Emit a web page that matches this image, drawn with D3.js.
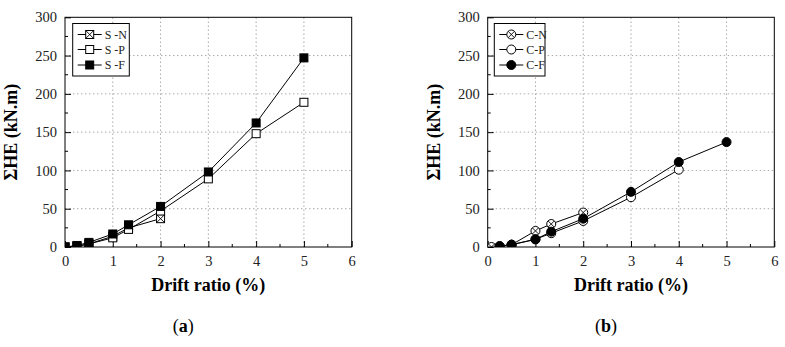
<!DOCTYPE html>
<html><head><meta charset="utf-8">
<script src="https://cdn.jsdelivr.net/npm/d3@7"></script>
<style>body{margin:0;background:#fff}svg{display:block}svg text{font-family:"Liberation Serif","Times New Roman",serif}</style>
</head><body>
<svg id="c" width="785" height="347"></svg>
<script>
const xTicks = [0,1,2,3,4,5,6];
const yTicks = [0,50,100,150,200,250,300];
const yLabel = "ΣHE (kN.m)";
const xLabel = "Drift ratio (%)";

const sLabels = ["S -N","S -P","S -F"];
const sNx = [0,0.25,0.5,1,1.33,2];
const sNy = [0,1,4,14,25,37];
const sPx = [0,0.25,0.5,1,1.33,2,3,4,5];
const sPy = [0,1,4,12,23,47,89,148,189];
const sFx = [0,0.25,0.5,1,1.33,2,3,4,5];
const sFy = [0,2,6,17,29,53,98,162,247];

const cLabels = ["C-N","C-P","C-F"];
const cNx = [0.08,0.25,0.5,1,1.33,2];
const cNy = [0,1,3,21,30,45];
const cPx = [0.25,0.5,1,1.33,2,3,4];
const cPy = [1,3,10,18,34,65,101];
const cFx = [0.25,0.5,1,1.33,2,3,4,5];
const cFy = [1,3,10,20,37,72,111,137];

const svg = d3.select("#c");
const serif = '"Liberation Serif","Times New Roman",serif';

function panel(x0, x1, tag, series, labels, legX0, legX1) {
  const x = d3.scaleLinear().domain([0,6]).range([x0,x1]);
  const y = d3.scaleLinear().domain([0,300]).range([247,17.3]);
  const g = svg.append("g");
  const cid = "clip" + tag;
  svg.append("defs").append("clipPath").attr("id",cid).append("rect")
    .attr("x",x(0)).attr("y",y(300)).attr("width",x(6)-x(0)).attr("height",y(0)-y(300));
  g.selectAll(".gx").data(xTicks.filter(d=>d>0&&d<6)).join("line")
    .attr("x1",d=>x(d)).attr("x2",d=>x(d)).attr("y1",y(0)).attr("y2",y(300))
    .attr("stroke","#aaa").attr("stroke-width",1).attr("stroke-dasharray","1.5,2.5");
  g.selectAll(".gy").data(yTicks.filter(d=>d>0&&d<300)).join("line")
    .attr("x1",x(0)).attr("x2",x(6)).attr("y1",d=>y(d)).attr("y2",d=>y(d))
    .attr("stroke","#aaa").attr("stroke-width",1).attr("stroke-dasharray","1.5,2.5");
  const ax = d3.axisBottom(x).tickValues(xTicks).tickSize(-6).tickPadding(9).tickFormat(d3.format("d"));
  const gx = g.append("g").attr("transform",`translate(0,${y(0)})`).call(ax);
  const ay = d3.axisLeft(y).tickValues(yTicks).tickSize(-6).tickPadding(8).tickFormat(d3.format("d"));
  const gy = g.append("g").attr("transform",`translate(${x(0)},0)`).call(ay);
  [gx,gy].forEach(a=>{
    a.attr("font-family",null).attr("font-size",null);
    a.select(".domain").remove();
    a.selectAll("text").style("font-family",serif).style("font-size","14.5px").attr("fill","#222");
    a.selectAll("line").attr("stroke","#000");
  });
  const xm = d3.range(0.5,6,1);
  g.selectAll(".mx").data(xm).join("line").attr("x1",d=>x(d)).attr("x2",d=>x(d))
    .attr("y1",y(0)).attr("y2",y(0)-3).attr("stroke","#000");
  const ym = d3.range(25,300,50);
  g.selectAll(".my").data(ym).join("line").attr("y1",d=>y(d)).attr("y2",d=>y(d))
    .attr("x1",x(0)).attr("x2",x(0)+3).attr("stroke","#000");
  g.append("text").attr("transform",`translate(${x0-48},${(y(0)+y(300))/2}) rotate(-90)`)
    .attr("text-anchor","middle").style("font-family",serif).style("font-weight","bold").style("font-size","18px")
    .text(yLabel);
  g.append("text").attr("x",(x0+x1)/2).attr("y",291).attr("text-anchor","middle")
    .style("font-family",serif).style("font-weight","bold").style("font-size","18px").text(xLabel);
  const t = g.append("text").attr("x",(x0+x1)/2-25).attr("y",332).attr("text-anchor","middle")
    .style("font-family",serif).style("font-size","18px");
  t.append("tspan").text("(");
  t.append("tspan").style("font-weight","bold").text(tag);
  t.append("tspan").text(")");

  const mg = g.append("g").attr("clip-path",`url(#${cid})`);
  const line = d3.line().x(d=>x(d[0])).y(d=>y(d[1]));
  series.forEach(s=>{
    const pts = s.xs.map((v,i)=>[v,s.ys[i]]);
    mg.append("path").datum(pts).attr("d",line).attr("fill","none").attr("stroke","#000").attr("stroke-width",1);
  });
  series.forEach(s=>{
    const pts = s.xs.map((v,i)=>[v,s.ys[i]]);
    pts.forEach(p=>marker(mg, x(p[0]), y(p[1]), s.shape, s.fill, s.cross));
  });
  g.append("rect").attr("x",x(0)).attr("y",y(300)).attr("width",x(6)-x(0)).attr("height",y(0)-y(300))
    .attr("fill","none").attr("stroke","#000").attr("stroke-width",1);
  g.append("rect").attr("x",legX0).attr("y",23.5).attr("width",legX1-legX0).attr("height",52.5)
    .attr("fill","#fff").attr("stroke","#000").attr("stroke-width",1);
  const ly = [34.5,49.5,65];
  series.forEach((s,i)=>{
    g.append("line").attr("x1",legX0+5).attr("x2",legX0+29).attr("y1",ly[i]).attr("y2",ly[i]).attr("stroke","#000");
    marker(g, legX0+17, ly[i], s.shape, s.fill, s.cross);
    g.append("text").attr("x",legX0+32).attr("y",ly[i]+4).style("font-family",serif).style("font-size","12px")
      .attr("fill","#222").text(labels[i]);
  });
}

function marker(g, cx, cy, shape, fill, cross) {
  const r = 4;
  if (shape==="sq") {
    g.append("rect").attr("x",cx-r).attr("y",cy-r).attr("width",2*r).attr("height",2*r)
      .attr("fill",fill).attr("stroke","#000").attr("stroke-width",1);
  } else {
    g.append("circle").attr("cx",cx).attr("cy",cy).attr("r",r+0.5)
      .attr("fill",fill).attr("stroke","#000").attr("stroke-width",1);
  }
  if (cross) {
    const k = shape==="sq" ? r : r*0.75;
    g.append("path").attr("d",`M${cx-k},${cy-k}L${cx+k},${cy+k}M${cx-k},${cy+k}L${cx+k},${cy-k}`)
      .attr("stroke","#000").attr("stroke-width",0.9);
  }
}

panel(65, 351.7, "a", [
  {xs:sNx, ys:sNy, shape:"sq", fill:"#fff", cross:true},
  {xs:sPx, ys:sPy, shape:"sq", fill:"#fff", cross:false},
  {xs:sFx, ys:sFy, shape:"sq", fill:"#000", cross:false}
], sLabels, 72.7, 129.3);

panel(487.7, 774.3, "b", [
  {xs:cNx, ys:cNy, shape:"ci", fill:"#fff", cross:true},
  {xs:cPx, ys:cPy, shape:"ci", fill:"#fff", cross:false},
  {xs:cFx, ys:cFy, shape:"ci", fill:"#000", cross:false}
], cLabels, 494.3, 545);
</script>
</body></html>
